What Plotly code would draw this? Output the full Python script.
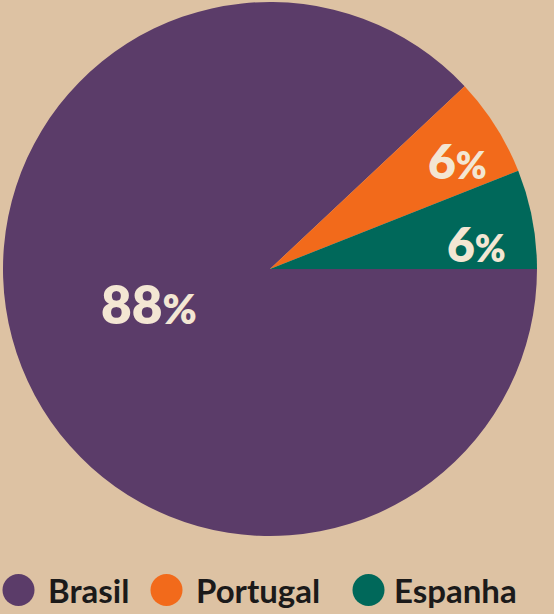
import math
import plotly.graph_objects as go

labels = ["Brasil", "Portugal", "Espanha"]
values = [88, 6, 6]
colors = ["#5B3C69", "#F26A1B", "#00685A"]

W, H = 554, 614
ML, MR, MT, MB = 3, 17, 2, 78
PW, PH = W - ML - MR, H - MT - MB

BG = "#DDC2A3"
TXT = "#F3E6D3"

fig = go.Figure(go.Pie(
    labels=labels, values=values, sort=False, direction="clockwise", rotation=90,
    marker=dict(colors=colors, line=dict(width=0)),
    textinfo="none", showlegend=False, hoverinfo="label+percent",
))

def px_x(p):
    return (p - ML) / PW

def px_y(p):
    return (H - MB - p) / PH

# pie geometry (pixels)
CX, CY = ML + PW / 2, MT + PH / 2
R = min(PW, PH) / 2

# label placement style: radius fraction, angle tweak, font size
label_rfrac = [0.47, 0.81, 0.78]
label_dang = [-5.6, -2.4, -3.8]
label_size = [53, 48, 48]

annotations = []
total = sum(values)
start = 0.0  # degrees ccw from 3 o'clock, going clockwise
for v, f, da, s in zip(values, label_rfrac, label_dang, label_size):
    sweep = 360.0 * v / total
    mid = start - sweep / 2
    start -= sweep
    ang = math.radians(mid + da)
    px = CX + f * R * math.cos(ang)
    py = CY - f * R * math.sin(ang)
    pct = round(100 * v / total)
    annotations.append(dict(
        text=f"{pct}<span style='font-size:{int(s*0.78)}px'>%</span>",
        xref="paper", yref="paper", x=px_x(px), y=px_y(py),
        xanchor="center", yanchor="middle", showarrow=False,
        font=dict(family="Lato", size=s, color=TXT, weight=800)))

shapes = []
legend_circle_x = [18.5, 166.5, 368.5]
legend_text_x = [46, 194, 392]
ly = 590
for lab, col, cx, tx in zip(labels, colors, legend_circle_x, legend_text_x):
    shapes.append(dict(type="circle", xref="paper", yref="paper",
                       xsizemode="pixel", ysizemode="pixel",
                       xanchor=px_x(cx), yanchor=px_y(ly),
                       x0=-16, x1=16, y0=-16, y1=16,
                       fillcolor=col, line=dict(width=0)))
    annotations.append(dict(text=lab, xref="paper", yref="paper",
                            x=px_x(tx), y=px_y(ly), xanchor="left", yanchor="middle",
                            showarrow=False,
                            font=dict(family="Lato", size=33, color="#1B1A1A", weight="bold")))

fig.update_layout(
    width=W, height=H, margin=dict(l=ML, r=MR, t=MT, b=MB),
    paper_bgcolor=BG, plot_bgcolor=BG,
    shapes=shapes, annotations=annotations,
)

fig.write_html("out.html")
